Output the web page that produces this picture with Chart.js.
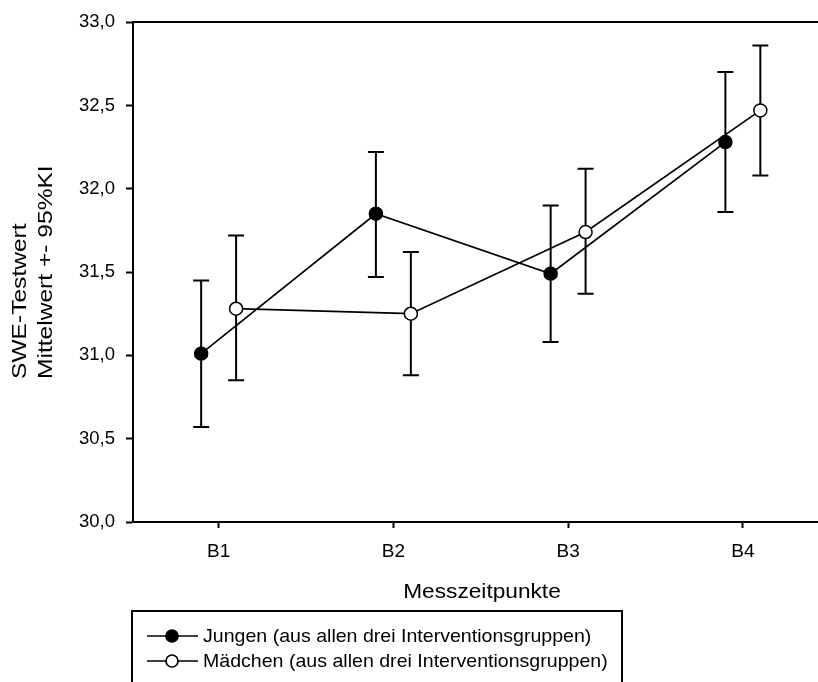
<!DOCTYPE html>
<html>
<head>
<meta charset="utf-8">
<script src="https://cdn.jsdelivr.net/npm/chart.js@4.4.1/dist/chart.umd.min.js"></script>
<style>
  html, body { margin: 0; padding: 0; background: #fff; overflow: hidden; }
  canvas { display: block; }
</style>
</head>
<body>
<canvas id="sweChart" width="818" height="682"></canvas>
<script>
// Messzeitpunkte und Mittelwerte mit 95%-KI
const categories = ['B1', 'B2', 'B3', 'B4'];
const yTicks = [30.0, 30.5, 31.0, 31.5, 32.0, 32.5, 33.0];

const jungenMean  = [31.01, 31.85, 31.49, 32.28];
const jungenLower = [30.57, 31.47, 31.08, 31.86];
const jungenUpper = [31.45, 32.22, 31.90, 32.70];

const maedchenMean  = [31.28, 31.25, 31.74, 32.47];
const maedchenLower = [30.85, 30.88, 31.37, 32.08];
const maedchenUpper = [31.72, 31.62, 32.12, 32.86];

const seriesLabels = [
    'Jungen (aus allen drei Interventionsgruppen)',
    'Mädchen (aus allen drei Interventionsgruppen)'
];
const xTitle = 'Messzeitpunkte';
const yTitleLines = ['SWE-Testwert', 'Mittelwert +- 95%KI'];

const FONT = "Arial, 'Liberation Sans', sans-serif";
const shift = 0.1; // Jungen links, Mädchen rechts vom Messzeitpunkt

function toPoints(values, offset) {
    return values.map((v, i) => ({ x: i + offset, y: v }));
}

// draw text stretched along its own direction
function stretchedText(ctx, text, x, y, sx) {
    ctx.save();
    ctx.translate(x, y);
    ctx.scale(sx, 1);
    ctx.fillText(text, 0, 0);
    ctx.restore();
}

const errorBars = {
    id: 'errorBars',
    beforeDatasetsDraw(chart) {
        const ctx = chart.ctx;
        const xs = chart.scales.x, ys = chart.scales.y;
        const sets = [
            [jungenLower, jungenUpper, -shift],
            [maedchenLower, maedchenUpper, shift]
        ];
        ctx.save();
        ctx.strokeStyle = '#000';
        ctx.lineWidth = 2;
        sets.forEach(([lo, hi, off]) => {
            lo.forEach((l, i) => {
                const x = xs.getPixelForValue(i + off);
                const y1 = ys.getPixelForValue(l);
                const y2 = ys.getPixelForValue(hi[i]);
                ctx.beginPath();
                ctx.moveTo(x, y1); ctx.lineTo(x, y2);
                ctx.moveTo(x - 8, y1); ctx.lineTo(x + 8, y1);
                ctx.moveTo(x - 8, y2); ctx.lineTo(x + 8, y2);
                ctx.stroke();
            });
        });
        ctx.restore();
    }
};

const decorations = {
    id: 'decorations',
    afterDraw(chart) {
        const ctx = chart.ctx;
        const area = chart.chartArea;
        ctx.save();
        // top frame line
        ctx.strokeStyle = '#000';
        ctx.lineWidth = 2;
        ctx.beginPath();
        ctx.moveTo(area.left - 1, area.top);
        ctx.lineTo(chart.width, area.top);
        ctx.stroke();

        ctx.fillStyle = '#000';
        // x title
        ctx.font = '21px ' + FONT;
        ctx.textBaseline = 'alphabetic';
        ctx.textAlign = 'left';
        const w = ctx.measureText(xTitle).width * 1.08;
        stretchedText(ctx, xTitle, 482 - w / 2, 598, 1.08);

        // y title, two lines, rotated
        ctx.font = '21px ' + FONT;
        ctx.textBaseline = 'middle';
        yTitleLines.forEach((t, i) => {
            ctx.save();
            ctx.translate(20 + i * 26, 379);
            ctx.rotate(-Math.PI / 2);
            ctx.scale(1.17, 1);
            ctx.fillText(t, 0, 0);
            ctx.restore();
        });

        // legend box
        ctx.lineWidth = 2;
        ctx.strokeRect(132, 611, 490, 100);
        const rows = [636, 661];
        const fills = ['#000', '#fff'];
        rows.forEach((ry, i) => {
            ctx.lineWidth = 1.7;
            ctx.beginPath();
            ctx.moveTo(147, ry); ctx.lineTo(198, ry);
            ctx.stroke();
            ctx.beginPath();
            ctx.arc(172, ry, 6, 0, Math.PI * 2);
            ctx.fillStyle = fills[i];
            ctx.fill();
            ctx.stroke();
            ctx.fillStyle = '#000';
            ctx.font = '19px ' + FONT;
            ctx.textBaseline = 'middle';
            stretchedText(ctx, seriesLabels[i], 203, ry + 1, 1.03);
        });
        ctx.restore();
    }
};

const ctx = document.getElementById('sweChart').getContext('2d');
const chart = new Chart(ctx, {
    type: 'line',
    data: {
        datasets: [
            {
                label: seriesLabels[0],
                data: toPoints(jungenMean, -shift),
                borderColor: '#000',
                borderWidth: 1.7,
                pointRadius: 6.5,
                pointBackgroundColor: '#000',
                pointBorderColor: '#000',
                pointBorderWidth: 1.5,
                tension: 0
            },
            {
                label: seriesLabels[1],
                data: toPoints(maedchenMean, shift),
                borderColor: '#000',
                borderWidth: 1.7,
                pointRadius: 6.5,
                pointBackgroundColor: '#fff',
                pointBorderColor: '#000',
                pointBorderWidth: 1.5,
                tension: 0
            }
        ]
    },
    options: {
        responsive: false,
        animation: false,
        events: [],
        layout: { autoPadding: false, padding: { left: 0, right: 0, top: 21, bottom: 0 } },
        plugins: {
            legend: { display: false },
            tooltip: { enabled: false }
        },
        scales: {
            x: {
                type: 'linear',
                min: -0.49,
                max: 3.43,
                afterFit(scale) { scale.height = 160; },
                afterBuildTicks(scale) {
                    scale.ticks = categories.map((c, i) => ({ value: i }));
                },
                border: { display: true, color: '#000', width: 2 },
                grid: {
                    drawOnChartArea: false,
                    drawTicks: true,
                    tickLength: 6,
                    tickWidth: 2,
                    tickColor: '#000'
                },
                ticks: {
                    color: '#000',
                    padding: 12,
                    maxRotation: 0,
                    font: { family: FONT, size: 19 },
                    callback: (v) => categories[v]
                }
            },
            y: {
                min: 30,
                max: 33,
                afterFit(scale) { scale.width = 133; },
                afterBuildTicks(scale) {
                    scale.ticks = yTicks.map(v => ({ value: v }));
                },
                border: { display: true, color: '#000', width: 2 },
                grid: {
                    drawOnChartArea: false,
                    drawTicks: true,
                    tickLength: 7,
                    tickWidth: 2,
                    tickColor: '#000'
                },
                ticks: {
                    color: '#000',
                    padding: 11,
                    font: { family: FONT, size: 18.5 },
                    callback: (v) => v.toFixed(1).replace('.', ',')
                }
            }
        }
    },
    plugins: [errorBars, decorations]
});
</script>
</body>
</html>
